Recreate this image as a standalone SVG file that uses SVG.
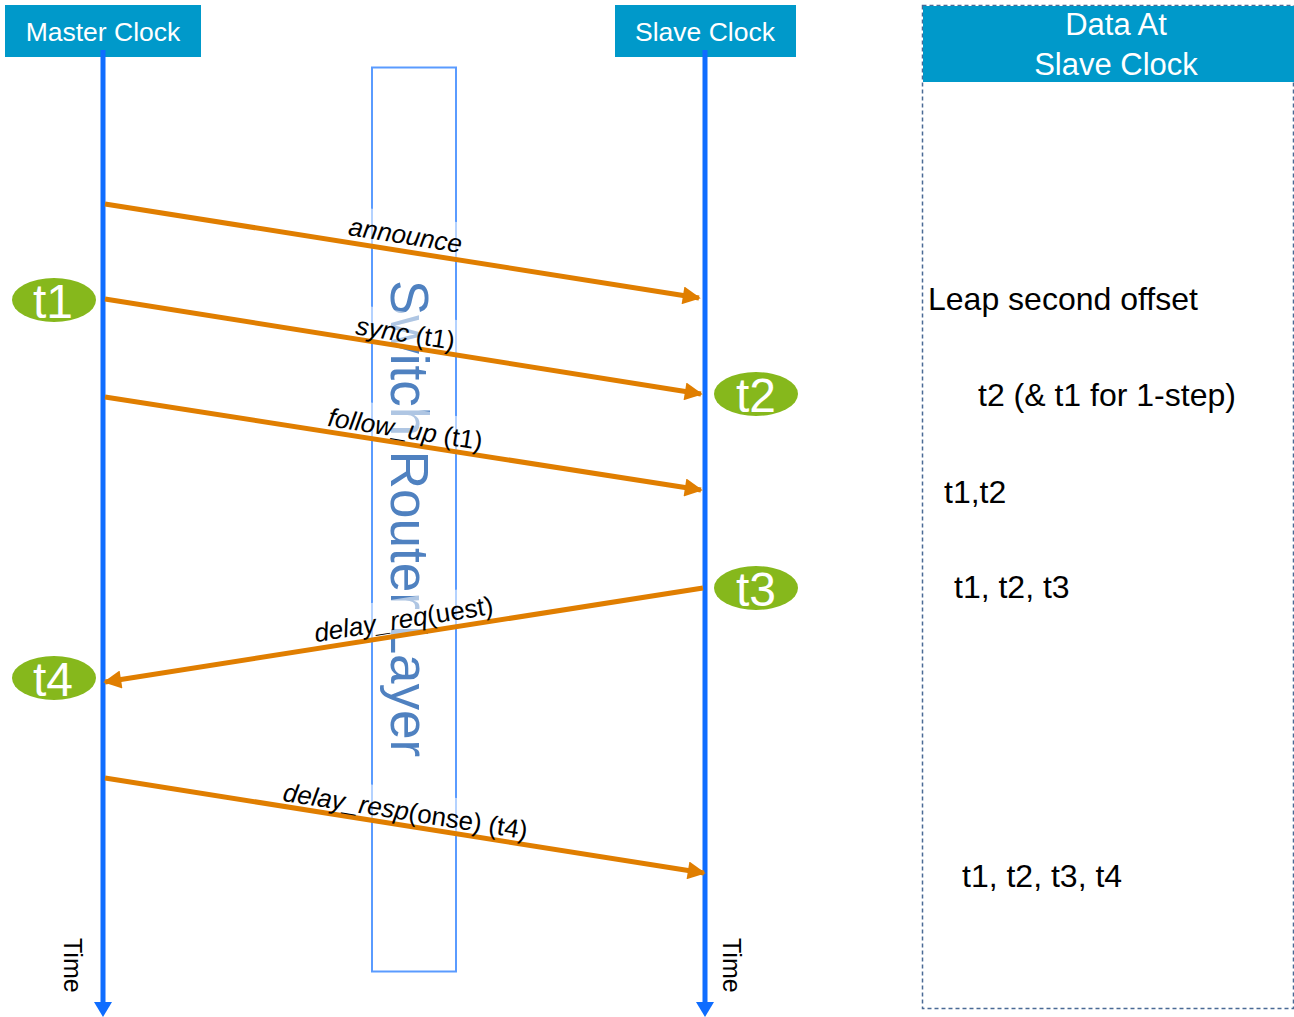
<svg xmlns="http://www.w3.org/2000/svg" width="1294" height="1017" viewBox="0 0 1294 1017">
  <style>
    text { font-family: "Liberation Sans", Arial, sans-serif; }
    .hdr { fill: #0099CA; }
    .hdr-t { fill: #FFFFFF; font-size: 26.5px; text-anchor: middle; }
    .life { stroke: #0F6DFF; stroke-width: 5; fill: none; }
    .life-head { fill: #0F6DFF; }
    .msg { stroke: #E07E00; stroke-width: 5; fill: none; }
    .stamp { fill: #86B81C; }
    .stamp-t { fill: #FFFFFF; font-size: 48px; text-anchor: middle; }
    .lbl { fill: #000000; font-size: 26px; text-anchor: middle; }
    .halo { fill: #FFFFFF; fill-opacity: 0.55; }
    .data { fill: #000000; font-size: 32px; }
    .time { fill: #000000; font-size: 25px; }
  </style>
  <defs>
    <marker id="msgHead" viewBox="0 0 10 10" refX="9" refY="5" markerWidth="4" markerHeight="3.6" orient="auto" markerUnits="strokeWidth">
      <path d="M0,0 L10,5 L0,10 Z" fill="#E07E00"/>
    </marker>
  </defs>

  <rect x="0" y="0" width="1294" height="1017" fill="#FFFFFF"/>

  <!-- data panel on the right -->
  <g id="data-panel">
    <rect x="922.5" y="5.5" width="371" height="1003" fill="none" stroke="#4A6A95" stroke-width="1.5" stroke-dasharray="4 3"/>
    <rect class="hdr" x="923" y="6" width="371" height="76"/>
    <text x="1116" y="35" fill="#FFFFFF" font-size="31" text-anchor="middle" font-family="Liberation Sans, Arial, sans-serif">Data At</text>
    <text x="1116" y="75" fill="#FFFFFF" font-size="31" text-anchor="middle" font-family="Liberation Sans, Arial, sans-serif">Slave Clock</text>
    <text class="data" x="928" y="310">Leap second offset</text>
    <text class="data" x="978" y="406">t2 (&amp; t1 for 1-step)</text>
    <text class="data" x="944" y="503">t1,t2</text>
    <text class="data" x="954" y="598">t1, t2, t3</text>
    <text class="data" x="962" y="887">t1, t2, t3, t4</text>
  </g>

  <!-- switch / router layer between the clocks -->
  <g id="switch-layer">
    <rect x="372" y="67.5" width="84" height="904" fill="none" stroke="#5A9BFF" stroke-width="2"/>
    <text transform="translate(391,280) rotate(90)" fill="#4F81C0" font-size="53">Switch Router Layer</text>
  </g>

  <!-- clock headers and lifelines -->
  <g id="master-clock">
    <rect class="hdr" x="5" y="5" width="196" height="52"/>
    <text class="hdr-t" x="103" y="41">Master Clock</text>
    <line class="life" x1="103" y1="50" x2="103" y2="1004"/>
    <polygon class="life-head" points="94,1002 112,1002 103,1017"/>
    <text class="time" transform="translate(64,938) rotate(90)">Time</text>
  </g>
  <g id="slave-clock">
    <rect class="hdr" x="615" y="5" width="181" height="52"/>
    <text class="hdr-t" x="705" y="41">Slave Clock</text>
    <line class="life" x1="705" y1="50" x2="705" y2="1004"/>
    <polygon class="life-head" points="696,1002 714,1002 705,1017"/>
    <text class="time" transform="translate(723,938) rotate(90)">Time</text>
  </g>

  <!-- label backdrops -->
  <g id="label-backdrops">
    <rect class="halo" transform="translate(404,235) rotate(9)" x="-66" y="-21" width="132" height="36"/>
    <rect class="halo" transform="translate(404,333) rotate(9)" x="-58" y="-21" width="116" height="36"/>
    <rect class="halo" transform="translate(404,429) rotate(9)" x="-86" y="-21" width="172" height="36"/>
    <rect class="halo" transform="translate(405,619) rotate(-9)" x="-98" y="-21" width="196" height="36"/>
    <rect class="halo" transform="translate(404,811) rotate(9)" x="-132" y="-21" width="264" height="36"/>
  </g>

  <!-- message connectors -->
  <g id="connectors">
    <line class="msg" x1="105" y1="204" x2="699" y2="298" marker-end="url(#msgHead)"/>
    <line class="msg" x1="105" y1="299" x2="701" y2="394" marker-end="url(#msgHead)"/>
    <line class="msg" x1="105" y1="397" x2="701" y2="490" marker-end="url(#msgHead)"/>
    <line class="msg" x1="703" y1="588" x2="105" y2="682" marker-end="url(#msgHead)"/>
    <line class="msg" x1="105" y1="778" x2="704" y2="873" marker-end="url(#msgHead)"/>
  </g>

  <!-- message labels -->
  <g id="labels">
    <text class="lbl" transform="translate(404,244) rotate(9)"><tspan font-style="italic">announce</tspan></text>
    <text class="lbl" transform="translate(404,342) rotate(9)"><tspan font-style="italic">sync</tspan> (t1)</text>
    <text class="lbl" transform="translate(404,438) rotate(9)"><tspan font-style="italic">follow_up</tspan> (t1)</text>
    <text class="lbl" transform="translate(405,628) rotate(-9)"><tspan font-style="italic">delay_req</tspan>(uest)</text>
    <text class="lbl" transform="translate(404,820) rotate(9)"><tspan font-style="italic">delay_resp</tspan>(onse) (t4)</text>
  </g>

  <!-- timestamp markers -->
  <g id="t1">
    <ellipse class="stamp" cx="54" cy="300" rx="42" ry="22"/>
    <text class="stamp-t" x="53" y="318">t1</text>
  </g>
  <g id="t2">
    <ellipse class="stamp" cx="756" cy="394" rx="42" ry="22"/>
    <text class="stamp-t" x="756" y="412">t2</text>
  </g>
  <g id="t3">
    <ellipse class="stamp" cx="756" cy="588" rx="42" ry="22"/>
    <text class="stamp-t" x="756" y="606">t3</text>
  </g>
  <g id="t4">
    <ellipse class="stamp" cx="54" cy="678" rx="42" ry="22"/>
    <text class="stamp-t" x="53" y="696">t4</text>
  </g>
</svg>
